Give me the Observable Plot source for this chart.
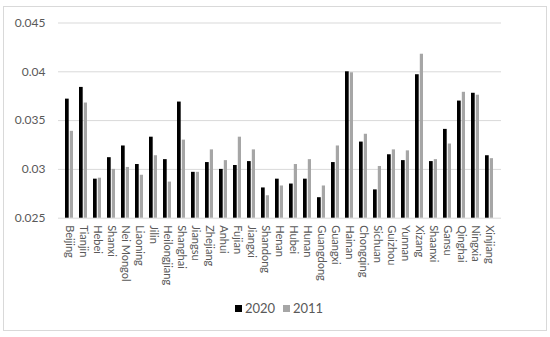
<!DOCTYPE html>
<html>
<head>
<meta charset="utf-8">
<script src="https://cdn.jsdelivr.net/npm/d3@7"></script>
<script src="https://cdn.jsdelivr.net/npm/@observablehq/plot@0.6"></script>
<style>
  html, body { margin: 0; padding: 0; background: #fff; }
  #wrap { position: relative; width: 550px; height: 337px; overflow: hidden; font-family: Lato, "Open Sans", sans-serif; }
  #frame { position: absolute; left: 3px; top: 6px; width: 542px; height: 323px; border: 1px solid #d9d9d9; box-sizing: content-box; }
  #chart { position: absolute; left: 0; top: 0; }
  #legend { position: absolute; top: 299px; left: 0; width: 550px; height: 18px; font-size: 13px; color: #595959; }
  .key { position: absolute; top: 0; display: flex; align-items: center; height: 18px; }
  .sw { width: 7px; height: 7px; margin-right: 3px; }
</style>
</head>
<body>
<div id="wrap">
  <div id="frame"></div>
  <div id="chart"></div>
  <div id="legend"></div>
</div>
<script>
const provinces = ["Beijing","Tianjin","Hebei","Shanxi","Nei Mongol","Liaoning","Jilin","Heilongjiang","Shanghai","Jiangsu","Zhejiang","Anhui","Fujian","Jiangxi","Shandong","Henan","Hubei","Hunan","Guangdong","Guangxi","Hainan","Chongqing","Sichuan","Guizhou","Yunnan","Xizang","Shaanxi","Gansu","Qinghai","Ningxia","Xinjiang"];
const values2020 = [0.0372,0.0384,0.0290,0.0312,0.0324,0.0305,0.0333,0.0310,0.0369,0.0297,0.0307,0.0300,0.0304,0.0308,0.0281,0.0290,0.0285,0.0290,0.0271,0.0307,0.0400,0.0328,0.0279,0.0315,0.0309,0.0397,0.0308,0.0341,0.0370,0.0378,0.0314];
const values2011 = [0.0339,0.0368,0.0291,0.0300,0.0302,0.0294,0.0314,0.0287,0.0330,0.0297,0.0320,0.0309,0.0333,0.0320,0.0273,0.0283,0.0305,0.0310,0.0283,0.0324,0.0399,0.0336,0.0303,0.0320,0.0319,0.0418,0.0310,0.0326,0.0379,0.0376,0.0311];
const series = ["2020", "2011"];
const seriesColors = ["#000000", "#a6a6a6"];
const yTicks = [0.025, 0.03, 0.035, 0.04, 0.045];
const yTickLabels = ["0.025", "0.03", "0.035", "0.04", "0.045"];

const baseline = yTicks[0];
const rows2020 = provinces.map((p, i) => ({province: p, value: values2020[i]}));
const rows2011 = provinces.map((p, i) => ({province: p, value: values2011[i]}));

const chart = Plot.plot({
  width: 550,
  height: 300,
  marginLeft: 58,
  marginRight: 49,
  marginTop: 22.5,
  marginBottom: 82.3,
  style: {background: "transparent", fontFamily: "Lato, 'Open Sans', sans-serif", color: "#595959"},
  x: {type: "band", domain: provinces, paddingInner: 0.42, paddingOuter: 0.18, label: null},
  y: {domain: [yTicks[0], yTicks[yTicks.length - 1]], label: null},
  marks: [
    Plot.gridY(yTicks, {stroke: "#d9d9d9", strokeOpacity: 1, strokeWidth: 1}),
    Plot.barY(rows2020, {x: "province", y1: baseline, y2: "value", fill: seriesColors[0], insetRight: 4.3}),
    Plot.barY(rows2011, {x: "province", y1: baseline, y2: "value", fill: seriesColors[1], insetLeft: 4.8}),
    Plot.axisY(yTicks, {tickSize: 0, tickPadding: 13, tickFormat: (d, i) => yTickLabels[i], fontSize: 12, fill: "#595959"}),
    Plot.axisX({tickSize: 0, tickPadding: 7, tickRotate: 90, fontSize: 11, fill: "#595959", label: null})
  ]
});
document.getElementById("chart").appendChild(chart);

const legend = document.getElementById("legend");
const lefts = [235, 283];
series.forEach((s, i) => {
  const k = document.createElement("div");
  k.className = "key";
  k.style.left = lefts[i] + "px";
  k.innerHTML = `<span class="sw" style="background:${seriesColors[i]}"></span><span>${s}</span>`;
  legend.appendChild(k);
});
</script>
</body>
</html>
